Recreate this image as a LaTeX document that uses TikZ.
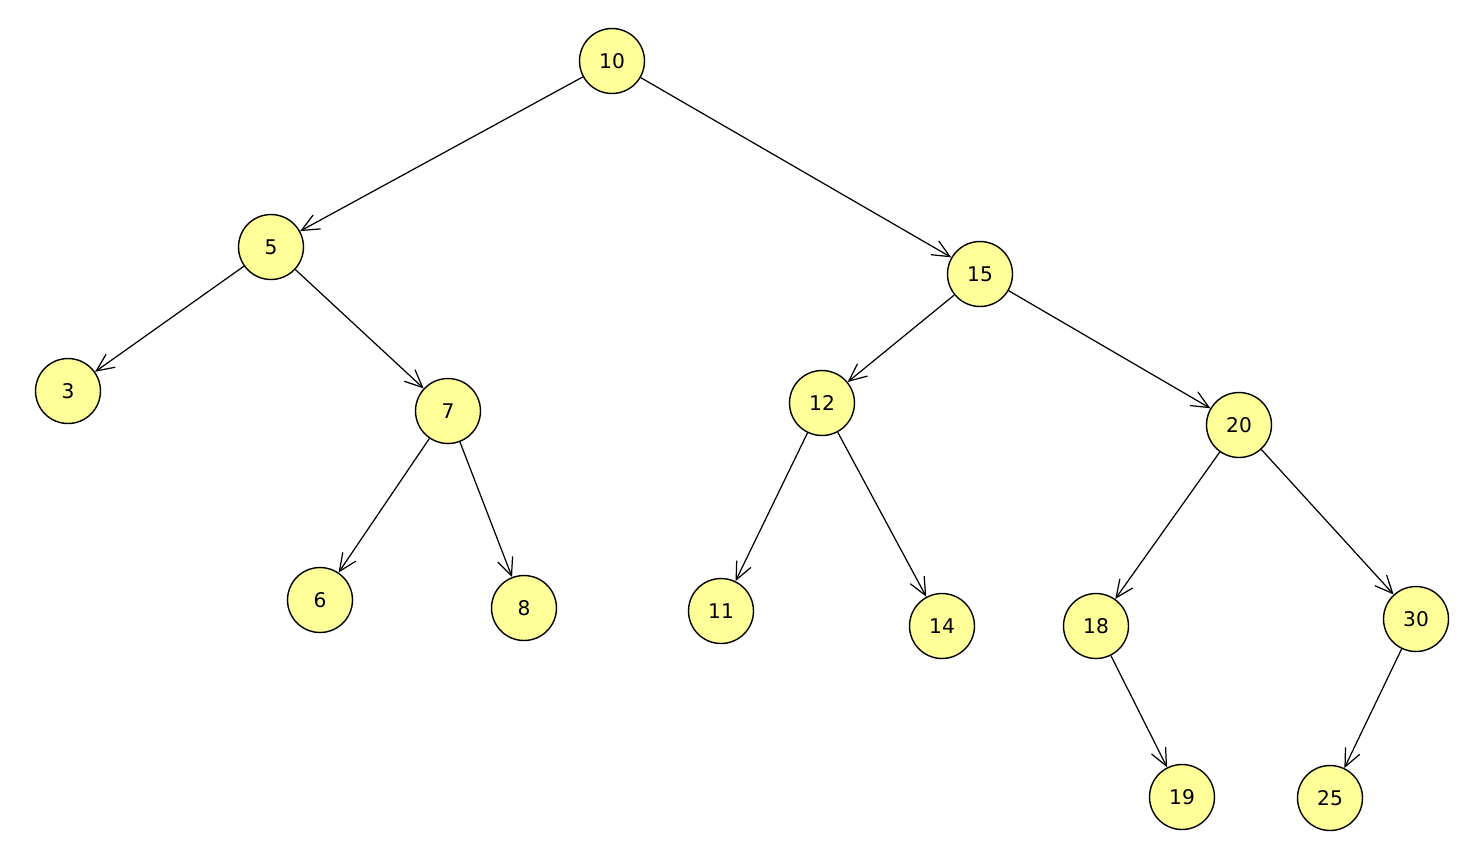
\documentclass[tikz,border=0pt]{standalone}
\usepackage{fontspec}
\setmainfont{DejaVu Sans}
\usetikzlibrary{arrows.meta}
\definecolor{nodefill}{RGB}{255,255,153}
\begin{document}
\begin{tikzpicture}[x=0.02cm,y=-0.02cm,
  tn/.style={circle,draw=black,line width=0.8pt,fill=nodefill,minimum size=1.3cm,inner sep=0pt,font=\fontsize{11.5}{13}\selectfont},
  edge/.style={draw=black,line width=0.7pt,-{Straight Barb[length=10pt,width=9pt,line width=0.7pt]}}]
\useasboundingbox (0,0) rectangle (1472,846);
\node[tn] (n10) at (612,61) {10};
\node[tn] (n5) at (271,247) {5};
\node[tn] (n15) at (980,274) {15};
\node[tn] (n3) at (68,391) {3};
\node[tn] (n7) at (448,411) {7};
\node[tn] (n12) at (822,403) {12};
\node[tn] (n20) at (1239,425) {20};
\node[tn] (n6) at (320,600) {6};
\node[tn] (n8) at (524,608) {8};
\node[tn] (n11) at (721,611) {11};
\node[tn] (n14) at (942,626) {14};
\node[tn] (n18) at (1096,626) {18};
\node[tn] (n30) at (1416,619) {30};
\node[tn] (n19) at (1182,797) {19};
\node[tn] (n25) at (1330,798) {25};
\draw[edge] (n10) -- (n5);
\draw[edge] (n10) -- (n15);
\draw[edge] (n5) -- (n3);
\draw[edge] (n5) -- (n7);
\draw[edge] (n7) -- (n6);
\draw[edge] (n7) -- (n8);
\draw[edge] (n15) -- (n12);
\draw[edge] (n15) -- (n20);
\draw[edge] (n12) -- (n11);
\draw[edge] (n12) -- (n14);
\draw[edge] (n20) -- (n18);
\draw[edge] (n20) -- (n30);
\draw[edge] (n18) -- (n19);
\draw[edge] (n30) -- (n25);
\end{tikzpicture}
\end{document}
